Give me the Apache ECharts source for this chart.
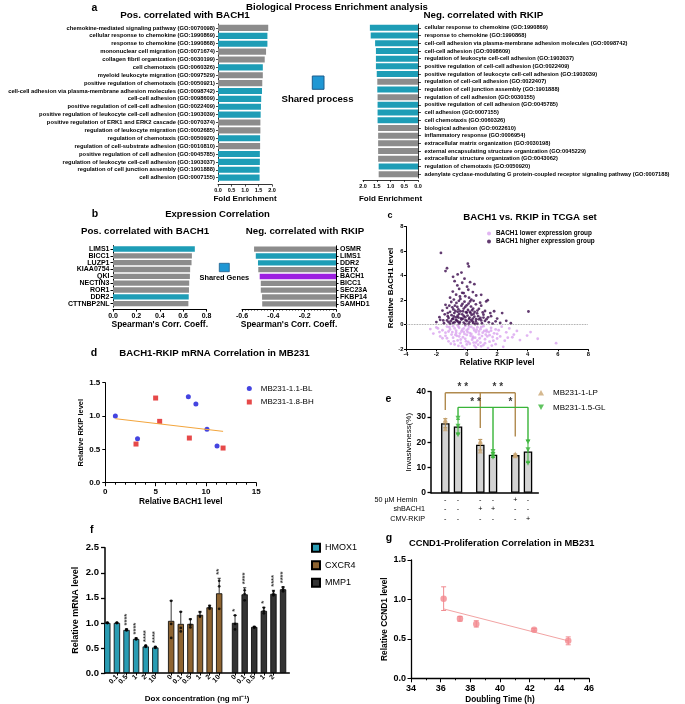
<!DOCTYPE html>
<html><head><meta charset="utf-8">
<script src="https://cdn.jsdelivr.net/npm/echarts@6/dist/echarts.min.js"></script>
<style>html,body{margin:0;padding:0;background:#fff}#c{width:685px;height:704px}</style>
</head><body><div id="c"></div>
<script>
// ================= DATA =================
// Panel a
const aPosTerms = [
 'chemokine-mediated signaling pathway (GO:0070098)',
 'cellular response to chemokine (GO:1990869)',
 'response to chemokine (GO:1990868)',
 'mononuclear cell migration (GO:0071674)',
 'collagen fibril organization (GO:0030199)',
 'cell chemotaxis (GO:0060326)',
 'myeloid leukocyte migration (GO:0097529)',
 'positive regulation of chemotaxis (GO:0050921)',
 'cell-cell adhesion via plasma-membrane adhesion molecules (GO:0098742)',
 'cell-cell adhesion (GO:0098609)',
 'positive regulation of cell-cell adhesion (GO:0022409)',
 'positive regulation of leukocyte cell-cell adhesion (GO:1903039)',
 'positive regulation of ERK1 and ERK2 cascade (GO:0070374)',
 'regulation of leukocyte migration (GO:0002685)',
 'regulation of chemotaxis (GO:0050920)',
 'regulation of cell-substrate adhesion (GO:0010810)',
 'positive regulation of cell adhesion (GO:0045785)',
 'regulation of leukocyte cell-cell adhesion (GO:1903037)',
 'regulation of cell junction assembly (GO:1901888)',
 'cell adhesion (GO:0007155)'
];
const aPosValues = [1.86,1.83,1.83,1.78,1.73,1.66,1.66,1.64,1.63,1.60,1.59,1.58,1.57,1.57,1.56,1.56,1.55,1.55,1.54,1.54];
const aPosShared = [0,1,1,0,0,1,0,0,1,1,1,1,0,0,1,0,1,1,1,1];
const aNegTerms = [
 'cellular response to chemokine (GO:1990869)',
 'response to chemokine (GO:1990868)',
 'cell-cell adhesion via plasma-membrane adhesion molecules (GO:0098742)',
 'cell-cell adhesion (GO:0098609)',
 'regulation of leukocyte cell-cell adhesion (GO:1903037)',
 'positive regulation of cell-cell adhesion (GO:0022409)',
 'positive regulation of leukocyte cell-cell adhesion (GO:1903039)',
 'regulation of cell-cell adhesion (GO:0022407)',
 'regulation of cell junction assembly (GO:1901888)',
 'regulation of cell adhesion (GO:0030155)',
 'positive regulation of cell adhesion (GO:0045785)',
 'cell adhesion (GO:0007155)',
 'cell chemotaxis (GO:0060326)',
 'biological adhesion (GO:0022610)',
 'inflammatory response (GO:0006954)',
 'extracellular matrix organization (GO:0030198)',
 'external encapsulating structure organization (GO:0045229)',
 'extracellular structure organization (GO:0043062)',
 'regulation of chemotaxis (GO:0050920)',
 'adenylate cyclase-modulating G protein-coupled receptor signaling pathway (GO:0007188)'
];
const aNegValues = [1.75,1.72,1.56,1.53,1.53,1.53,1.50,1.48,1.48,1.47,1.47,1.47,1.47,1.45,1.45,1.45,1.45,1.45,1.43,1.43];
const aNegShared = [1,1,1,1,1,1,1,0,1,0,1,1,1,0,0,0,0,0,1,0];

// Panel b
const bPosGenes = ['LIMS1','BICC1','LUZP1','KIAA0754','QKI','NECTIN3','ROR1','DDR2','CTTNBP2NL'];
const bPosValues = [0.70,0.675,0.672,0.66,0.658,0.652,0.650,0.648,0.645];
const bPosType = ['shared','','','','','','','shared',''];
const bNegGenes = ['OSMR','LIMS1','DDR2','SETX','BACH1','BICC1','SEC23A','FKBP14','SAMHD1'];
const bNegValues = [-0.523,-0.512,-0.498,-0.496,-0.487,-0.480,-0.480,-0.472,-0.471];
const bNegType = ['','shared','shared','','target','','','',''];

// Panel c  [Relative RKIP, Relative BACH1]
const cHigh = [
 [-1.7,5.85],[0.07,4.97],[0.13,4.75],[-1.3,4.6],[-1.4,4.37],[0.22,3.47],[-0.6,4.1],[-0.9,3.9],[-0.8,3.55],[-0.35,4.25],
 [0.5,3.3],[-0.15,3.75],[0.95,2.44],[1.38,2.0],[1.28,1.9],[2.33,0.95],[4.06,1.08],[2.0,0.5],[2.6,0.32],[2.2,0.15],
 [1.8,1.1],[1.6,0.7],[1.9,0.28],[2.9,0.12],
 [-2.0,0.22],[-1.75,0.4],[-1.5,0.12],[-1.3,0.35],[-1.1,0.08],[-0.95,0.45],[-0.8,0.2],[-0.65,0.33],[-0.5,0.1],[-0.35,0.42],
 [-0.2,0.18],[0.0,0.3],[0.12,0.06],[0.3,0.38],[0.42,0.15],[0.6,0.27],[0.8,0.44],[1.0,0.12],[1.2,0.31],[1.45,0.2],
 [1.7,0.09],[-1.2,0.22],[-0.1,0.05],[0.7,0.08],[-0.58,0.25],[0.18,0.22],[-0.9,0.14],[0.55,0.06],
 [-1.8,0.62],[-1.45,0.85],[-1.2,0.55],[-1.0,0.78],[-0.82,0.95],[-0.7,0.6],[-0.5,0.88],[-0.38,0.52],[-0.2,0.72],[0.0,0.98],
 [0.18,0.58],[0.32,0.8],[0.5,0.66],[0.68,0.93],[0.9,0.55],[1.1,0.82],[1.4,0.6],[-0.9,0.5],[0.4,0.5],[-0.1,0.62],[-0.6,0.74],
 [-1.6,1.15],[-1.3,1.38],[-1.1,1.05],[-0.88,1.25],[-0.62,1.45],[-0.42,1.1],[-0.2,1.32],[0.08,1.2],[0.28,1.48],[0.52,1.05],
 [0.8,1.3],[1.2,1.12],[-0.05,1.02],[-0.75,1.12],[0.35,1.18],
 [-1.4,1.62],[-1.02,1.85],[-0.78,1.55],[-0.52,1.95],[-0.28,1.7],[0.0,1.58],[0.22,1.9],[0.6,1.66],[0.88,1.8],[-0.15,1.88],
 [-1.1,2.2],[-0.7,2.45],[-0.42,2.1],[-0.1,2.32],[0.3,2.05],[0.62,2.38],[-0.3,2.6],
 [-0.92,2.7],[-0.5,2.92],[-0.2,2.58],[0.1,2.85],[0.4,2.66],
 [-0.62,3.2],[-0.3,3.42],[0.02,3.1],
 [-1.25,0.7],[-1.05,0.3],[-0.85,0.68],[-0.72,0.4],[-0.55,0.58],[-0.45,0.22],[-0.3,0.85],[-0.25,0.5],[-0.08,0.38],[0.05,0.75],
 [0.15,0.45],[0.25,0.95],[0.38,0.28],[0.45,0.88],[0.62,0.45],[0.75,0.7],[0.95,0.35],[1.05,1.0],[1.3,0.45],[1.55,0.95],
 [-1.15,1.55],[-0.95,1.42],[-0.68,1.78],[-0.55,1.25],[-0.35,1.55],[-0.1,1.45],[0.12,1.72],[0.42,1.32],[0.7,1.15],[0.95,1.55],
 [-0.45,2.3],[0.15,2.2],[-0.85,2.05],[0.45,1.95],[-1.25,0.95],[1.1,0.58],[-1.55,0.35],[-0.6,1.05],[0.2,1.05],[-0.25,1.1]
];
const cLow = [
 [-2.4,-0.35],[-2.0,-0.22],[-1.6,-0.45],[-1.3,-0.15],[-1.1,-0.38],[-0.9,-0.12],[-0.7,-0.48],[-0.5,-0.25],[-0.3,-0.4],[-0.1,-0.1],
 [0.1,-0.33],[0.3,-0.18],[0.5,-0.46],[0.7,-0.2],[0.9,-0.36],[1.1,-0.12],[1.3,-0.42],[1.6,-0.25],[1.9,-0.38],[2.3,-0.16],[2.8,-0.3],
 [-2.2,-0.72],[-1.8,-0.6],[-1.4,-0.9],[-1.2,-0.55],[-1.0,-0.8],[-0.7,-0.66],[-0.5,-0.95],[-0.2,-0.58],[0.0,-0.83],[0.2,-0.68],
 [0.4,-0.98],[0.6,-0.6],[0.8,-0.78],[1.0,-0.92],[1.3,-0.55],[1.5,-0.85],[1.8,-0.7],[2.2,-0.95],[2.6,-0.62],[3.1,-0.8],[3.97,-0.88],
 [-1.6,-1.1],[-1.2,-1.35],[-0.9,-1.05],[-0.6,-1.28],[-0.4,-1.48],[-0.1,-1.15],[0.1,-1.4],[0.4,-1.08],[0.7,-1.3],[0.9,-1.45],
 [1.2,-1.18],[1.5,-1.38],[2.0,-1.12],[2.5,-1.3],[3.0,-1.02],[3.5,-1.25],[4.67,-1.14],
 [-0.8,-1.6],[-0.3,-1.75],[0.2,-1.55],[0.6,-1.85],[1.1,-1.65],[1.4,-1.9],[1.9,-1.58],[2.4,-1.8],[5.88,-1.5],
 [-1.9,-0.3],[-0.6,-0.05],[0.05,-0.6],[0.35,-1.22],[-0.45,-0.72],[1.05,-0.65],[-1.05,-1.55],[0.75,-1.62],[-0.25,-1.02],
 [1.7,-1.0],[2.1,-0.45],[3.3,-0.5],[4.2,-0.6],[-0.15,-1.9],[0.5,-1.7],[-0.8,-0.3],[0.25,-0.9],[-0.35,-0.55],[0.85,-1.1],
 [1.25,-0.8],[-1.4,-0.65],[0.6,-1.45],[-0.05,-1.35],[1.45,-0.6],[-0.65,-0.9],
 [-1.15,-0.2],[-0.95,-0.6],[-0.75,-0.82],[-0.55,-0.15],[-0.4,-1.2],[-0.2,-0.3],[0.0,-0.45],[0.15,-0.15],[0.3,-0.75],[0.45,-0.3],
 [0.55,-1.05],[0.65,-0.4],[0.8,-0.55],[0.95,-0.2],[1.15,-0.5],[1.2,-1.5],[1.35,-0.95],[1.6,-0.48],[1.75,-1.3],[2.0,-0.75],
 [-1.3,-1.1],[-0.85,-1.35],[-0.55,-1.72],[0.0,-1.6],[0.45,-1.45],[0.95,-1.75],[1.65,-1.7],[2.7,-1.05],[-1.75,-0.95],[-0.15,-0.75]
];

// Panel d  [Relative BACH1, Relative RKIP]
const dBL = [[1.0,1.0],[3.2,0.66],[8.25,1.29],[9.0,1.18],[10.1,0.80],[11.1,0.55]];
const dBH = [[3.05,0.58],[5.0,1.27],[5.4,0.92],[8.35,0.67],[11.7,0.52]];
const dFit = [[1.0,0.96],[11.7,0.77]];

// Panel e
const ePos = [1,2,3.75,4.75,6.5,7.5];
const eMeans = [27.5,26.2,19.0,15.0,14.9,16.3];
const eErr = [1.8,2.9,2.1,1.0,0.4,4.3];
const eGroup = ['LP','GL','LP','GL','LP','GL'];
const ePoints = [[28.9,28.4,25.3],[29.5,26.3,23.0],[20.5,20.0,16.5],[16.3,15.0,14.0],[15.3,14.9,14.6],[20.2,17.0,11.7]];
const eHemin = ['-','-','-','-','+','-'];
const eShBACH1 = ['-','-','+','+','-','-'];
const eCMV = ['-','-','-','-','-','+'];
const eBrackets = [
 {group:'LP', top:39.6, drops:[[1,32.8],[3.75,25.6],[6.5,22.3]], stars:['* *','* *']},
 {group:'GL', top:33.8, drops:[[2,30.1],[4.75,17.0],[7.5,20.9]], stars:['* *','*']}
];

// Panel f
const fDoses = ['0','0.1','0.5','1','2','10'];
const fGenes = ['HMOX1','CXCR4','MMP1'];
const fHMOX1 = [1.0,1.0,0.86,0.68,0.53,0.51];
const fCXCR4 = [1.04,0.98,0.98,1.16,1.31,1.59];
const fMMP1 = [1.0,1.57,0.92,1.24,1.58,1.67];
const fHMOX1Err = [0.01,0.01,0.02,0.02,0.02,0.02];
const fCXCR4Err = [0.40,0.24,0.10,0.07,0.04,0.30];
const fMMP1Err = [0.15,0.13,0.01,0.07,0.07,0.05];
const fHMOX1Pts = [[1.0,1.0,1.0],[1.0,1.0,1.0],[0.87,0.86,0.85],[0.69,0.68,0.67],[0.55,0.53,0.52],[0.52,0.51,0.50]];
const fCXCR4Pts = [[1.44,0.98,0.70],[1.22,0.90,0.83],[1.07,0.96,0.91],[1.21,1.14,1.12],[1.34,1.31,1.28],[1.84,1.73,1.28]];
const fMMP1Pts = [[1.15,0.98,0.87],[1.65,1.58,1.45],[0.92,0.91,0.91],[1.30,1.24,1.19],[1.63,1.58,1.55],[1.71,1.67,1.63]];
const fHMOX1Stars = ['','','****','****','****','****'];
const fCXCR4Stars = ['','','','','','**'];
const fMMP1Stars = ['*','****','','*','****','****'];

// Panel g
const gDoubling = [36.2,37.3,38.4,42.3,44.6];
const gCCND1 = [1.01,0.755,0.69,0.615,0.475];
const gErr = [0.15,0.03,0.04,0.015,0.05];
const gFit = [[36.2,0.88],[44.6,0.475]];

// ================= STYLE / LAYOUT =================
const FONT = 'Liberation Sans';
const TEAL = '#1e9db6', GRAY = '#8c8c8c', PURPLE = '#9d1fe0';
const LPC = '#cba673', LPB = '#b08a4e', GLC = '#38b438';
const fColors = ['#2a9cb3','#8e6431','#333333'];
const lowName = 'BACH1 lower expression group', highName = 'BACH1 higher expression group';

function merge(a,b){const o=Object.assign({},a);for(const k in b){const v=b[k];if(v&&typeof v==='object'&&!Array.isArray(v)&&a[k]&&typeof a[k]==='object'&&!Array.isArray(a[k]))o[k]=merge(a[k],v);else o[k]=v;}return o;}
function ax(extra){
  return merge({
    type:'value',
    axisLine:{show:true,onZero:false,lineStyle:{color:'#000',width:1}},
    axisTick:{show:true,length:3,lineStyle:{color:'#000',width:1}},
    splitLine:{show:false},
    axisLabel:{color:'#000',fontFamily:FONT,fontWeight:'bold',fontSize:7,margin:3},
    nameLocation:'middle',
    nameTextStyle:{color:'#000',fontFamily:FONT,fontWeight:'bold',fontSize:8}
  }, extra);
}
const f1 = v => v.toFixed(1);

function errRender(color, cap, lw, both){
  return function(params, api){
    const x = api.value(0), lo = api.value(1), hi = api.value(2);
    const a = api.coord([x, lo]), b = api.coord([x, hi]);
    const st = {stroke:color, lineWidth:lw};
    const ch = [
      {type:'line', shape:{x1:a[0],y1:a[1],x2:b[0],y2:b[1]}, style:st},
      {type:'line', shape:{x1:b[0]-cap,y1:b[1],x2:b[0]+cap,y2:b[1]}, style:st}
    ];
    if (both) ch.push({type:'line', shape:{x1:a[0]-cap,y1:a[1],x2:a[0]+cap,y2:a[1]}, style:st});
    return {type:'group', children:ch};
  };
}
function segRender(color, lw){
  return function(params, api){
    const a = api.coord([api.value(0), api.value(1)]), b = api.coord([api.value(2), api.value(3)]);
    return {type:'line', shape:{x1:a[0],y1:a[1],x2:b[0],y2:b[1]}, style:{stroke:color, lineWidth:lw}};
  };
}

// ---- derived series data ----
const ePtsLP = [], ePtsGL = [], eErrLP = [], eErrGL = [];
ePos.forEach((p,i) => {
  const tgt = eGroup[i]==='LP' ? ePtsLP : ePtsGL;
  ePoints[i].forEach(v => tgt.push([p, v]));
  (eGroup[i]==='LP' ? eErrLP : eErrGL).push([p, eMeans[i]-eErr[i], eMeans[i]+eErr[i]]);
});
const eSegs = {LP:[], GL:[]}, eStarPts = [];
eBrackets.forEach(b => {
  const d = b.drops;
  eSegs[b.group].push([d[0][0], b.top, d[d.length-1][0], b.top]);
  d.forEach(q => eSegs[b.group].push([q[0], q[1], q[0], b.top]));
  for (let k=0;k<d.length-1;k++) eStarPts.push([(d[k][0]+d[k+1][0])/2, b.top, b.stars[k]]);
});

const fGroupStart = [0, 6.65, 13.3];
const fPos = [];
fGroupStart.forEach(s => fDoses.forEach((d,i) => fPos.push(s+i)));
const fLabelOf = v => { const k = fPos.findIndex(p => Math.abs(p-v) < 1e-6); return k<0 ? '' : fDoses[k%6]; };
const fVals = [fHMOX1, fCXCR4, fMMP1], fErrs = [fHMOX1Err, fCXCR4Err, fMMP1Err];
const fPts = [fHMOX1Pts, fCXCR4Pts, fMMP1Pts], fStars = [fHMOX1Stars, fCXCR4Stars, fMMP1Stars];
const fPointData = [], fErrData = [], fStarData = [];
fGenes.forEach((g,gi) => fDoses.forEach((d,i) => {
  const x = fGroupStart[gi]+i, v = fVals[gi][i], e = fErrs[gi][i];
  fPts[gi][i].forEach(p => fPointData.push([x, p]));
  fErrData.push([x, v, v+e]);
  if (fStars[gi][i]) fStarData.push([x, Math.max(v+e, Math.max.apply(null, fPts[gi][i])) + 0.07, fStars[gi][i]]);
}));

const gPts = gDoubling.map((x,i) => [x, gCCND1[i]]);
const gErrData = gDoubling.map((x,i) => [x, gCCND1[i]-gErr[i], gCCND1[i]+gErr[i]]);

// ---- graphic texts ----
function T(text, x, y, size, extra){
  return {type:'text', x:x, y:y, silent:true, style:Object.assign({text:text, fontFamily:FONT, fontSize:size, fontWeight:'bold', fill:'#000', align:'center', verticalAlign:'middle'}, extra||{})};
}
const graphics = [
  T('a', 94.3, 8.3, 10.5),
  T('Biological Process Enrichment analysis', 337, 7.5, 9.6),
  T('Pos. correlated with BACH1', 185, 15.5, 9.8),
  T('Neg. correlated with RKIP', 483.3, 15.5, 9.8),
  {type:'rect', shape:{x:312.3,y:76,width:11.7,height:13.3}, style:{fill:'#1f97d4', stroke:'#1d5d8c', lineWidth:1}},
  T('Shared process', 317.5, 99.5, 9.6),
  T('b', 95, 214.3, 10.5),
  T('Expression Correlation', 217.5, 214.3, 9.5),
  T('Pos. correlated with BACH1', 145, 231, 9.7),
  T('Neg. correlated with RKIP', 305, 231, 9.7),
  {type:'rect', shape:{x:219.3,y:263.3,width:10,height:8.4}, style:{fill:'#1f97d4', stroke:'#1d5d8c', lineWidth:0.8}},
  T('Shared Genes', 224.3, 278.3, 7.4),
  T('c', 390, 215.7, 9),
  T('BACH1 vs. RKIP in TCGA set', 530, 217.3, 9.7),
  T('d', 94, 353.3, 10.5),
  T('BACH1-RKIP mRNA Correlation in MB231', 214.5, 353.3, 9.65),
  T('e', 388.3, 399, 10.5),
  T('f', 91.7, 530, 10.5),
  T('g', 389, 538.3, 10.5),
  T('CCND1-Proliferation Correlation in MB231', 501.7, 543.3, 9.3)
];

const rowAxis = (off, name, arr) => ax({
  gridIndex:6, position:'bottom', min:-0.124, max:8.31, offset:off,
  axisLine:{show:false}, axisTick:{show:false},
  axisLabel:{customValues:ePos, margin:0, verticalAlign:'middle', fontWeight:'normal', fontSize:7.2,
             formatter:v => { const k = ePos.findIndex(p => Math.abs(p-v)<1e-6); return k<0?'':arr[k]; }},
  name:name, nameLocation:'start', nameGap:6,
  nameTextStyle:{fontWeight:'normal', fontSize:7.2, align:'right', verticalAlign:'middle'}
});

const option = {
  animation:false,
  backgroundColor:'#fff',
  textStyle:{fontFamily:FONT},
  grid:[
    {left:218, top:24, width:54, height:157.6},
    {left:363, top:24, width:55, height:154},
    {left:113, top:245.6, width:93.5, height:61.5},
    {left:242, top:245.8, width:94, height:61.4},
    {left:406, top:226.5, width:182.3, height:122.8},
    {left:105.3, top:382.7, width:151, height:100},
    {left:431, top:391.7, width:107.3, height:101},
    {left:105, top:547.7, width:184.3, height:125.3},
    {left:411, top:560, width:178, height:118.3}
  ].map(g => Object.assign({containLabel:false, outerBoundsMode:'none'}, g)),
  xAxis:[
    ax({gridIndex:0, position:'bottom', min:0, max:2, interval:0.5, offset:3, axisTick:{length:2,lineStyle:{width:0.7}}, axisLine:{lineStyle:{width:0.8}},
        axisLabel:{fontSize:5.5, margin:2.5, formatter:f1}, name:'Fold Enrichment', nameGap:9.7, nameTextStyle:{fontSize:8}}),
    ax({gridIndex:1, position:'bottom', min:0, max:2, interval:0.5, inverse:true, offset:2, axisTick:{length:2,lineStyle:{width:0.7}}, axisLine:{lineStyle:{width:0.8}},
        axisLabel:{fontSize:5.5, margin:3, formatter:f1}, name:'Fold Enrichment', nameGap:14.3, nameTextStyle:{fontSize:8}}),
    ax({gridIndex:2, position:'bottom', min:0, max:0.8, interval:0.2, offset:2, axisTick:{length:2.5},
        axisLabel:{fontSize:7, margin:3.5, formatter:f1}, name:"Spearman's Corr. Coeff.", nameGap:11, nameTextStyle:{fontSize:8.5}}),
    ax({gridIndex:3, position:'bottom', min:-0.6, max:0, interval:0.2, offset:2, axisTick:{length:2.5},
        minorTick:{show:true, splitNumber:10, length:1.5, lineStyle:{color:'#000', width:0.6}},
        axisLabel:{fontSize:7, margin:3.5, formatter:f1}, name:"Spearman's Corr. Coeff.", nameGap:11, nameTextStyle:{fontSize:8.5}}),
    ax({gridIndex:4, position:'bottom', min:-4, max:8, interval:2, axisTick:{length:2}, axisLabel:{fontSize:5.8, margin:2.5},
        name:'Relative RKIP level', nameGap:9.6, nameTextStyle:{fontSize:8.3}}),
    ax({gridIndex:5, position:'bottom', min:0, max:15, interval:5, axisTick:{length:3.5},
        minorTick:{show:true, splitNumber:5, length:2, lineStyle:{color:'#000'}},
        axisLabel:{fontSize:8, margin:5.5}, name:'Relative BACH1 level', nameGap:15, nameTextStyle:{fontSize:8.3}}),
    ax({gridIndex:6, position:'bottom', min:-0.124, max:8.31, axisLine:{lineStyle:{width:1.5}}, axisTick:{show:false}, axisLabel:{show:false}}),
    rowAxis(7.3, '50 \u00B5M Hemin', eHemin),
    rowAxis(16.3, 'shBACH1', eShBACH1),
    rowAxis(26, 'CMV-RKIP', eCMV),
    ax({gridIndex:7, position:'bottom', min:-0.24, max:18.95, axisLine:{lineStyle:{width:1.5}},
        axisTick:{customValues:fPos, length:2.5},
        axisLabel:{customValues:fPos, rotate:45, fontSize:7, margin:3, formatter:fLabelOf},
        name:'Dox concentration (ng ml\u207B\u00B9)', nameGap:22, nameTextStyle:{fontSize:8}}),
    ax({gridIndex:8, position:'bottom', min:34, max:46, interval:2, axisLine:{lineStyle:{width:1.3}}, axisTick:{length:4},
        minorTick:{show:true, splitNumber:2, length:2, lineStyle:{color:'#000'}},
        axisLabel:{fontSize:9, margin:6}, name:'Doubling Time (h)', nameGap:17, nameTextStyle:{fontSize:8.2}})
  ],
  yAxis:[
    ax({type:'category', gridIndex:0, position:'left', data:aPosTerms, inverse:true, axisLine:{lineStyle:{width:0.8}},
        axisTick:{alignWithLabel:true, length:2, lineStyle:{width:0.7}}, axisLabel:{fontSize:5.8, margin:3, interval:0}}),
    ax({type:'category', gridIndex:1, data:aNegTerms, inverse:true, position:'right', axisLine:{lineStyle:{width:0.8}},
        axisTick:{alignWithLabel:true, length:3, lineStyle:{width:0.7}}, axisLabel:{fontSize:5.7, margin:6.5, interval:0}}),
    ax({type:'category', gridIndex:2, position:'left', data:bPosGenes, inverse:true,
        axisTick:{alignWithLabel:true, length:2.5}, axisLabel:{fontSize:7, margin:3.5, interval:0}}),
    ax({type:'category', gridIndex:3, data:bNegGenes, inverse:true, position:'right',
        axisTick:{alignWithLabel:true, length:2.5}, axisLabel:{fontSize:7, margin:4, interval:0}}),
    ax({gridIndex:4, position:'left', min:-2, max:8, interval:2, axisTick:{length:2}, axisLabel:{fontSize:5.8, margin:2.5},
        name:'Relative BACH1 level', nameGap:9, nameTextStyle:{fontSize:8}}),
    ax({gridIndex:5, position:'left', min:0, max:1.5, interval:0.5, axisTick:{length:3}, axisLabel:{fontSize:8, margin:5, formatter:f1},
        name:'Relative RKIP level', nameGap:18, nameTextStyle:{fontSize:7.5}}),
    ax({gridIndex:6, position:'left', min:0, max:40, interval:10, axisLine:{lineStyle:{width:1.5}}, axisTick:{length:3.5, lineStyle:{width:1.3}},
        axisLabel:{fontSize:8.5, margin:5}, name:'Invasiveness(%)', nameGap:17, nameTextStyle:{fontSize:8, fontWeight:'normal'}}),
    ax({gridIndex:7, position:'left', min:0, max:2.5, interval:0.5, axisLine:{lineStyle:{width:1.5}}, axisTick:{length:4, lineStyle:{width:1.3}},
        axisLabel:{fontSize:9.5, margin:6, formatter:f1}, name:'Relative mRNA level', nameGap:25, nameTextStyle:{fontSize:9}}),
    ax({gridIndex:8, position:'left', min:0, max:1.5, interval:0.5, axisLine:{lineStyle:{width:1.3}}, axisTick:{length:3.5},
        axisLabel:{fontSize:9, margin:5, formatter:f1}, name:'Relative CCND1 level', nameGap:22, nameTextStyle:{fontSize:8.3}})
  ],
  legend:[
    {left:487, top:230.5, padding:0, orient:'vertical', itemWidth:4, itemHeight:4, itemGap:2, selectedMode:false,
     textStyle:{fontFamily:FONT, fontSize:6.4, fontWeight:'bold', color:'#000'},
     data:[{name:lowName, icon:'circle'},{name:highName, icon:'circle'}]},
    {left:246.8, top:384.5, padding:0, orient:'vertical', itemWidth:5, itemHeight:5, itemGap:5.5, selectedMode:false,
     textStyle:{fontFamily:FONT, fontSize:8, color:'#000', padding:[0,0,0,4]},
     data:[{name:'MB231-1.1-BL', icon:'circle'},{name:'MB231-1.8-BH', icon:'rect'}]},
    {left:538, top:388.7, padding:0, orient:'vertical', itemWidth:6, itemHeight:5.5, itemGap:6.6, selectedMode:false,
     textStyle:{fontFamily:FONT, fontSize:8, color:'#000', padding:[0,0,0,4]},
     data:[{name:'MB231-1-LP', icon:'triangle'},{name:'MB231-1.5-GL', icon:'path://M0,0L10,0L5,9Z'}]},
    {left:311, top:542.7, padding:0, orient:'vertical', itemWidth:8, itemHeight:8, itemGap:7.5, selectedMode:false, icon:'rect',
     textStyle:{fontFamily:FONT, fontSize:9, color:'#000'},
     data:fGenes}
  ],
  series:[
    // a
    {type:'bar', xAxisIndex:0, yAxisIndex:0, barCategoryGap:'22%', silent:true,
     data:aPosValues.map((v,i)=>({value:v, itemStyle:{color:aPosShared[i]?TEAL:GRAY}}))},
    {type:'bar', xAxisIndex:1, yAxisIndex:1, barCategoryGap:'22%', silent:true,
     data:aNegValues.map((v,i)=>({value:v, itemStyle:{color:aNegShared[i]?TEAL:GRAY}}))},
    // b
    {type:'bar', xAxisIndex:2, yAxisIndex:2, barCategoryGap:'22%', silent:true,
     data:bPosValues.map((v,i)=>({value:v, itemStyle:{color:bPosType[i]==='shared'?TEAL:GRAY}}))},
    {type:'bar', xAxisIndex:3, yAxisIndex:3, barCategoryGap:'22%', silent:true,
     data:bNegValues.map((v,i)=>({value:v, itemStyle:{color:bNegType[i]==='shared'?TEAL:(bNegType[i]==='target'?PURPLE:GRAY)}}))},
    // c
    {name:lowName, type:'scatter', xAxisIndex:4, yAxisIndex:4, data:cLow, symbolSize:2.8, silent:true,
     itemStyle:{color:'#d9a3ef'},
     markLine:{silent:true, symbol:'none', label:{show:false}, lineStyle:{type:'dotted', color:'#888', width:0.8}, data:[{yAxis:0}]}},
    {name:highName, type:'scatter', xAxisIndex:4, yAxisIndex:4, data:cHigh, symbolSize:2.8, silent:true,
     itemStyle:{color:'#3b0a4c'}},
    // d
    {type:'line', xAxisIndex:5, yAxisIndex:5, data:dFit, symbol:'none', silent:true, lineStyle:{color:'#f3a53c', width:1}},
    {name:'MB231-1.1-BL', type:'scatter', xAxisIndex:5, yAxisIndex:5, data:dBL, symbol:'circle', symbolSize:5, itemStyle:{color:'#1515d8'}},
    {name:'MB231-1.8-BH', type:'scatter', xAxisIndex:5, yAxisIndex:5, data:dBH, symbol:'rect', symbolSize:5, itemStyle:{color:'#e01b1b'}},
    // e
    {type:'bar', xAxisIndex:6, yAxisIndex:6, barWidth:8.5, silent:true,
     data:ePos.map((p,i)=>[p, eMeans[i]]), itemStyle:{color:'#d3d3d3', borderColor:'#000', borderWidth:1.3}},
    {type:'custom', xAxisIndex:6, yAxisIndex:6, data:eErrLP, encode:{x:0,y:[1,2]}, renderItem:errRender(LPB,2,1,true), z:3, silent:true},
    {type:'custom', xAxisIndex:6, yAxisIndex:6, data:eErrGL, encode:{x:0,y:[1,2]}, renderItem:errRender(GLC,2,1,true), z:3, silent:true},
    {name:'MB231-1-LP', type:'scatter', xAxisIndex:6, yAxisIndex:6, data:ePtsLP, symbol:'triangle', symbolSize:5, z:4, itemStyle:{color:LPC}},
    {name:'MB231-1.5-GL', type:'scatter', xAxisIndex:6, yAxisIndex:6, data:ePtsGL, symbol:'path://M0,0L10,0L5,9Z', symbolSize:5, z:4, itemStyle:{color:GLC}},
    {type:'custom', xAxisIndex:6, yAxisIndex:6, data:eSegs.LP, encode:{x:[0,2],y:[1,3]}, renderItem:segRender(LPB,1.4), z:5, silent:true, clip:false},
    {type:'custom', xAxisIndex:6, yAxisIndex:6, data:eSegs.GL, encode:{x:[0,2],y:[1,3]}, renderItem:segRender(GLC,1.4), z:5, silent:true, clip:false},
    {type:'scatter', xAxisIndex:6, yAxisIndex:6, data:eStarPts, symbolSize:0, silent:true, z:6, clip:false,
     label:{show:true, position:'top', distance:0, formatter:p=>p.data[2], fontFamily:FONT, fontSize:10, fontWeight:'bold', color:'#000'}},
    // f
    ...fGenes.map((g,gi)=>({name:g, type:'bar', xAxisIndex:10, yAxisIndex:7, barWidth:6.3, barGap:'-100%', silent:true,
       data:fDoses.map((d,i)=>[fGroupStart[gi]+i, fVals[gi][i]]),
       itemStyle:{color:fColors[gi], borderColor:'#000', borderWidth:0.8}})),
    {type:'custom', xAxisIndex:10, yAxisIndex:7, data:fErrData, encode:{x:0,y:[1,2]}, renderItem:errRender('#000',1.6,0.8,false), z:3, silent:true},
    {type:'scatter', xAxisIndex:10, yAxisIndex:7, data:fPointData, symbolSize:2.8, z:4, silent:true, itemStyle:{color:'#000'}},
    {type:'scatter', xAxisIndex:10, yAxisIndex:7, data:fStarData, symbolSize:0, z:5, silent:true,
     label:{show:true, position:'inside', rotate:90, align:'left', verticalAlign:'middle', formatter:p=>p.data[2],
            fontFamily:FONT, fontSize:7.5, fontWeight:'bold', color:'#000'}},
    // g
    {type:'line', xAxisIndex:11, yAxisIndex:8, data:gFit, symbol:'none', silent:true, lineStyle:{color:'#f2a3a3', width:1}},
    {type:'custom', xAxisIndex:11, yAxisIndex:8, data:gErrData, encode:{x:0,y:[1,2]}, renderItem:errRender('#f08a8f',2.5,1,true), z:3, silent:true},
    {type:'scatter', xAxisIndex:11, yAxisIndex:8, data:gPts, symbolSize:6.5, z:4, silent:true, itemStyle:{color:'#f2878d'}}
  ],
  graphic:{elements:graphics}
};
const chart = echarts.init(document.getElementById('c'));
chart.setOption(option);
</script></body></html>
